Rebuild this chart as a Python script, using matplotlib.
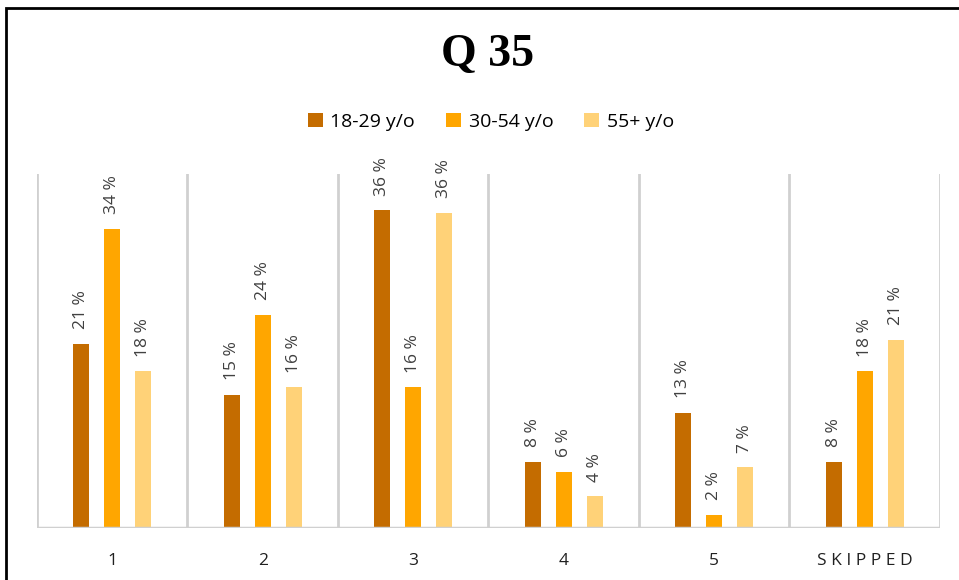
import matplotlib.pyplot as plt
from matplotlib.patches import Rectangle
import numpy as np

# Data (percent)
categories = ['1', '2', '3', '4', '5', 'S K I P P E D']
series_names = ['18-29 y/o', '30-54 y/o', '55+ y/o']
age_18_29 = [20.9, 15.1, 36.1, 7.5, 13.1, 7.5]
age_30_54 = [34.0, 24.2, 16.0, 6.4, 1.5, 17.8]
age_55_plus = [17.8, 16.0, 35.8, 3.6, 6.9, 21.4]
colors = ['#C46C00', '#FFA600', '#FFD278']

fig = plt.figure(figsize=(9.59, 5.80), dpi=100)
ax = fig.add_axes([37 / 959, 52 / 580, 903 / 959, 354 / 580])

x = np.arange(len(categories))
offsets = [-0.207, 0.0, 0.207]
width = 0.107
grid_color = '#D0D0D0'

for vals, off, col, name in zip([age_18_29, age_30_54, age_55_plus], offsets, colors, series_names):
    bars = ax.bar(x + off, vals, width=width, color=col, label=name, zorder=3)
    for b, v in zip(bars, vals):
        ax.annotate(f'{round(v):.0f} %', (b.get_x() + b.get_width() / 2, v),
                    xytext=(0, 10.5), textcoords='offset points', rotation=90,
                    ha='center', va='bottom', fontsize=12.5, color='#404040',
                    family='Open Sans')

# Category separators and baseline
for b in np.arange(-0.5, len(categories), 1.0):
    ax.axvline(b, color=grid_color, lw=2, zorder=1)
ax.axhline(0, color=grid_color, lw=2.5, zorder=4)

ax.set_xlim(-0.5, len(categories) - 0.5)
ax.set_ylim(0, 40.2)
ax.set_yticks([])
ax.set_xticks(x)
ax.set_xticklabels(categories, fontsize=12.5, family='Open Sans', color='#202020')
ax.tick_params(axis='x', length=0, pad=18)
for s in ax.spines.values():
    s.set_visible(False)

fig.text(0.508, 1 - 55 / 580, 'Q 35', ha='center', va='center', fontsize=33,
         fontweight='bold', family='Liberation Serif')

fig.legend(loc='center', bbox_to_anchor=(0.512, 1 - 122 / 580), ncol=3, frameon=False,
           prop={'family': 'Open Sans', 'size': 14}, handlelength=0.75, handleheight=0.75,
           handletextpad=0.4, columnspacing=1.6)

# Outer frame (left and top edges visible)
fig.patches.append(Rectangle((6 / 959, -0.1), 1.2, 1 - 8 / 580 + 0.1, transform=fig.transFigure,
                             fill=False, edgecolor='black', lw=2))

fig.savefig('out.png', dpi=100)
